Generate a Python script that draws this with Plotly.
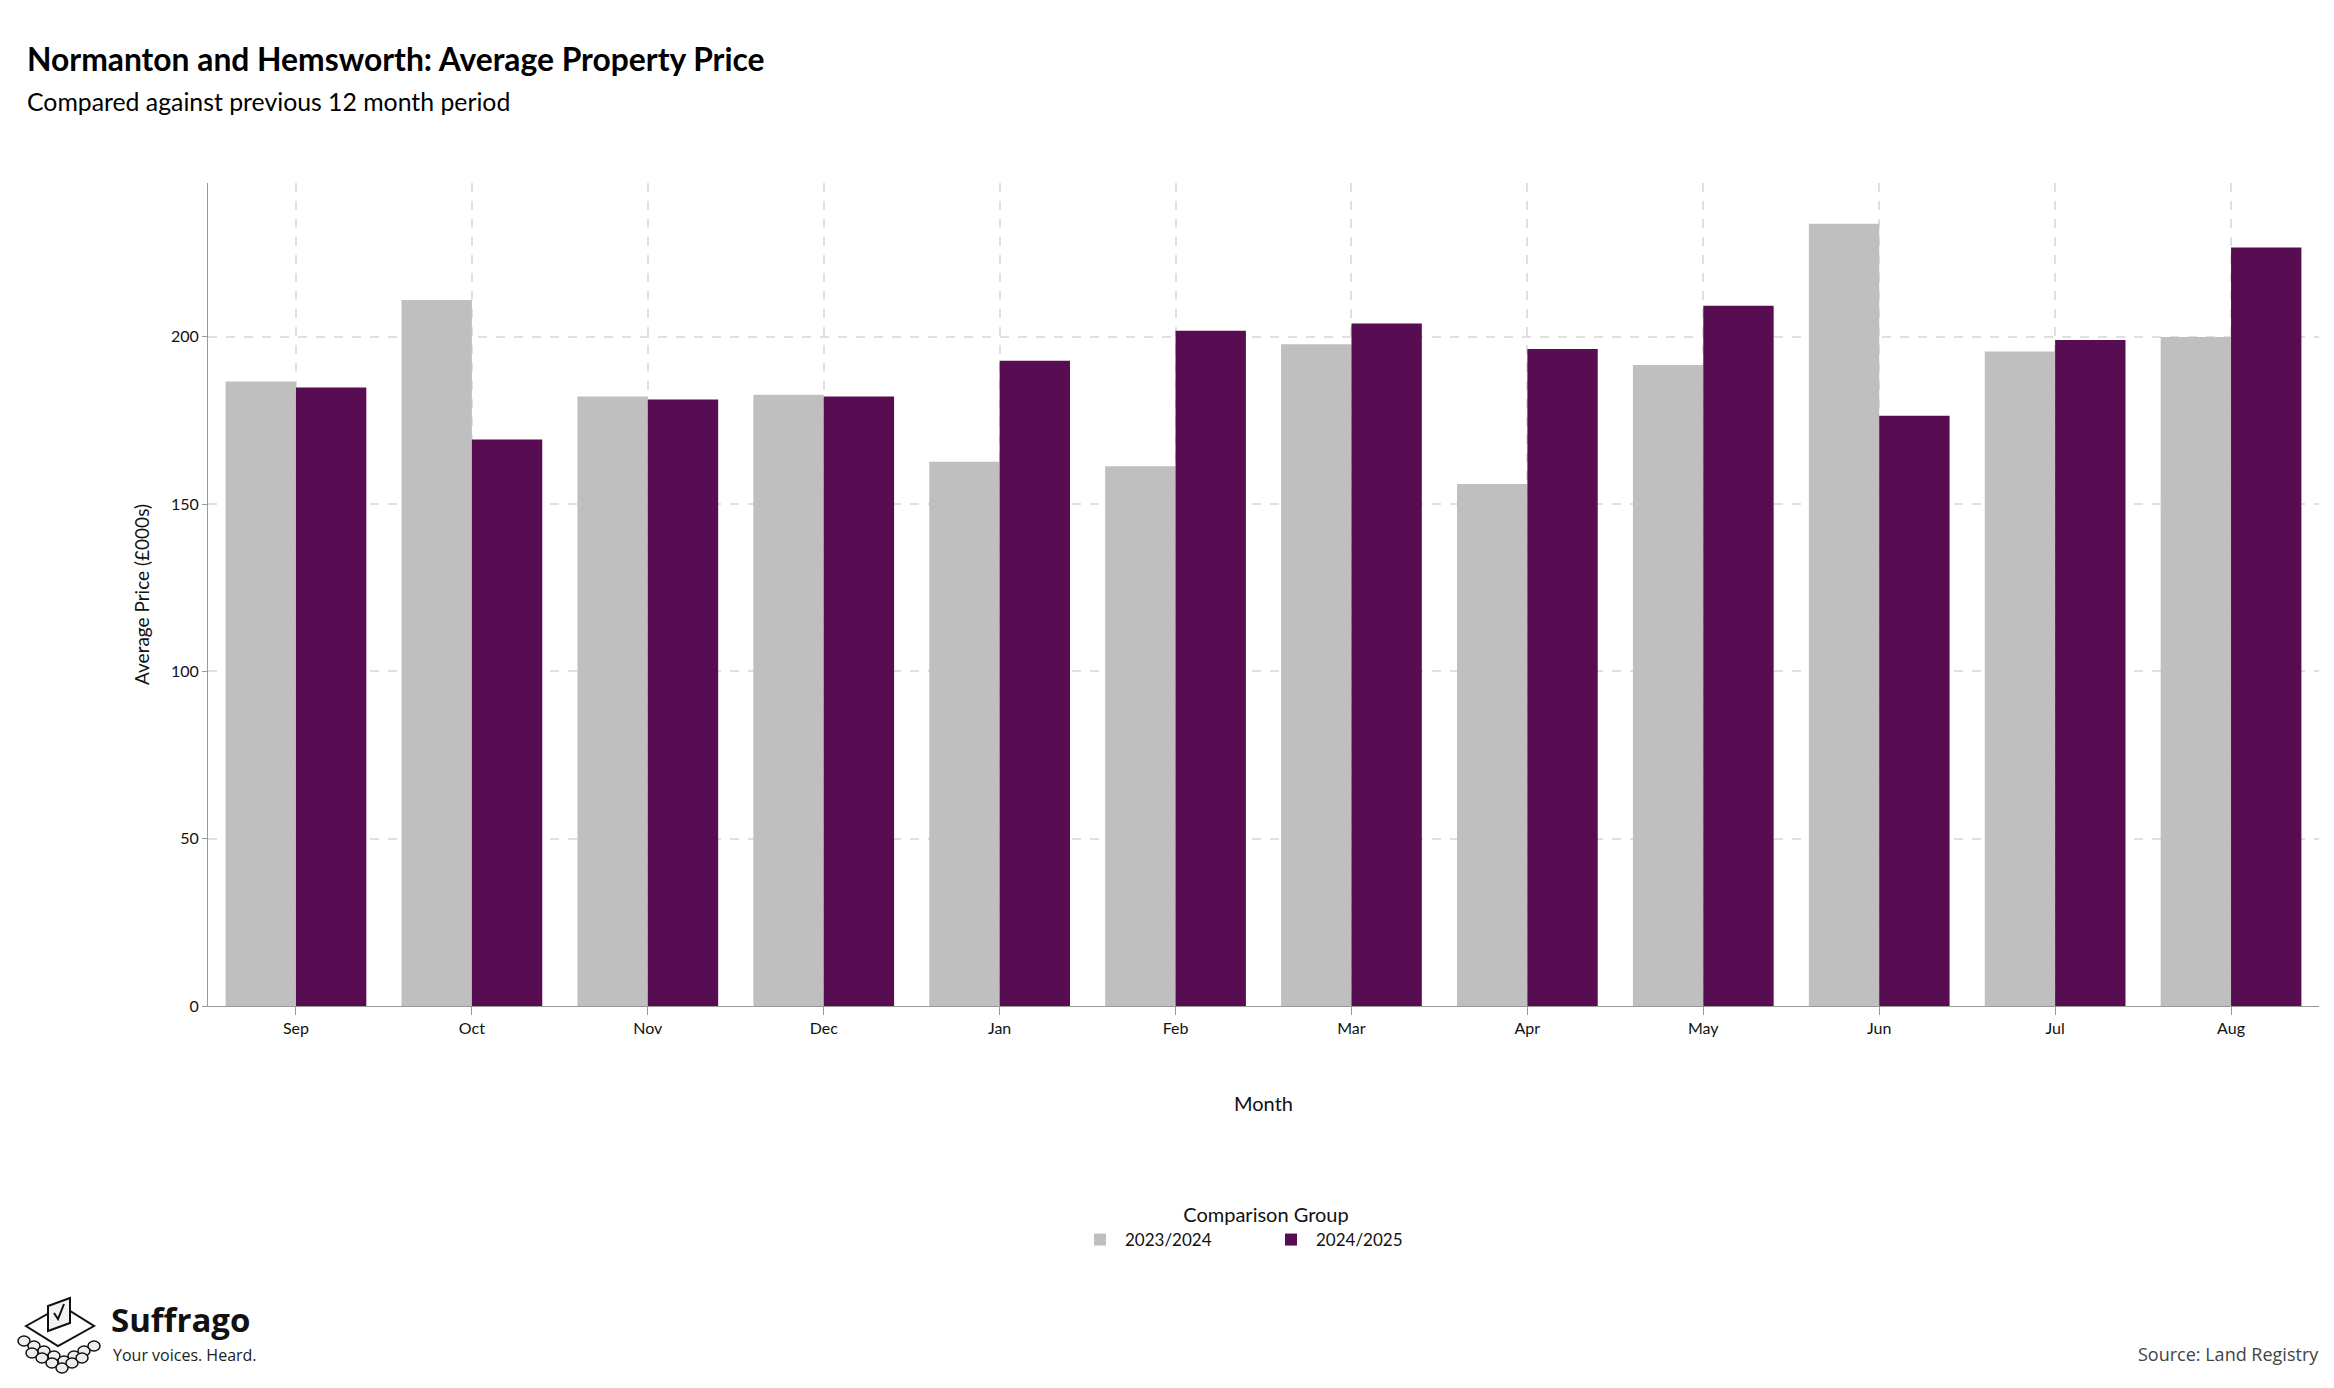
import plotly.graph_objects as go

months = ["Sep","Oct","Nov","Dec","Jan","Feb","Mar","Apr","May","Jun","Jul","Aug"]
prev_2324 = [186.7,211.0,182.2,182.7,162.7,161.3,197.8,156.0,191.6,233.8,195.6,200.0]
curr_2425 = [184.9,169.3,181.3,182.2,192.9,201.8,204.0,196.4,209.3,176.4,199.1,226.7]

F = "Lato"
W, H = 2334, 1388
L, R, T, B = 200, 23, 175, 390
PW, PH = W - L - R, H - T - B

def px(x):  # pixel x -> paper
    return (x - L) / PW
def py(y):  # pixel y -> paper
    return (H - B - y) / PH

fig = go.Figure()
fig.add_bar(x=months, y=prev_2324, name="2023/2024", marker_color="#bfbfbf", marker_line_width=0)
fig.add_bar(x=months, y=curr_2425, name="2024/2025", marker_color="#580c52", marker_line_width=0)

fig.update_layout(
    width=W, height=H, barmode="group", bargap=0.2, bargroupgap=0,
    plot_bgcolor="white", paper_bgcolor="white",
    font=dict(family=F, color="#111", size=16),
    margin=dict(l=L, r=R, t=T, b=B),
    legend=dict(orientation="h", x=px(1258), xanchor="center", y=py(1188), yanchor="top",
                title=dict(text="Comparison Group", side="top center", font=dict(size=20)),
                font=dict(size=17), entrywidth=136, itemwidth=40),
    xaxis=dict(title=dict(text="Month", font=dict(size=20), standoff=60),
               showgrid=True, gridcolor="#e0e0e0", griddash="dash", gridwidth=1.5,
               showline=True, linecolor="#999", ticks="outside", ticklen=8, tickcolor="#999",
               tickfont=dict(size=16), layer="above traces"),
    yaxis=dict(title=dict(text="Average Price (£000s)", font=dict(size=19), standoff=16),
               range=[0, 246], tickvals=[0,50,100,150,200], showgrid=True, gridcolor="#e0e0e0",
               griddash="dash", gridwidth=1.5, zeroline=False,
               showline=True, linecolor="#999", ticks="outside", ticklen=5, tickcolor="#999",
               tickfont=dict(size=16), layer="above traces"),
)

def ann(text, x, y, size, fam=F, color="#000", anchor="left"):
    fig.add_annotation(text=text, xref="paper", yref="paper", x=px(x), y=py(y),
                       xanchor=anchor, yanchor="middle", showarrow=False,
                       font=dict(size=size, family=fam, color=color))

ann("<b>Normanton and Hemsworth: Average Property Price</b>", 17, 51, 31.8)
ann("Compared against previous 12 month period", 17, 94, 24.8)
ann("<b>Suffrago</b>", 101, 1311, 33, "Open Sans", "#111")
ann("Your voices. Heard.", 103, 1347, 16, "Open Sans", "#222")
ann("Source: Land Registry", 2313, 1346, 18, "Open Sans", "#444", "right")

# logo icon (decorative)
def shp(line=None, **kw):
    fig.add_shape(xref="paper", yref="paper", line=line or dict(color="#111", width=2), **kw)
shp(type="path", path=f"M {px(18)},{py(1318)} L {px(54)},{py(1298)} L {px(86)},{py(1318)} L {px(50)},{py(1338)} Z",
    fillcolor="white")
shp(type="path", path=f"M {px(40)},{py(1323)} L {px(40)},{py(1298)} L {px(62)},{py(1290)} L {px(62)},{py(1315)} Z",
    fillcolor="#f2f2f2")
shp(type="path", path=f"M {px(46)},{py(1305)} L {px(50)},{py(1311)} L {px(56)},{py(1296)}")
for cx, cy in [(16,1333),(26,1338),(36,1343),(46,1348),(56,1353),(66,1348),(76,1343),(86,1338),
               (24,1345),(34,1350),(44,1355),(54,1360),(64,1355),(74,1350)]:
    shp(type="circle", x0=px(cx-6), x1=px(cx+6), y0=py(cy+5), y1=py(cy-5),
        fillcolor="#eeeeee", line=dict(color="#111", width=1.5))

fig.write_html("out.html")
